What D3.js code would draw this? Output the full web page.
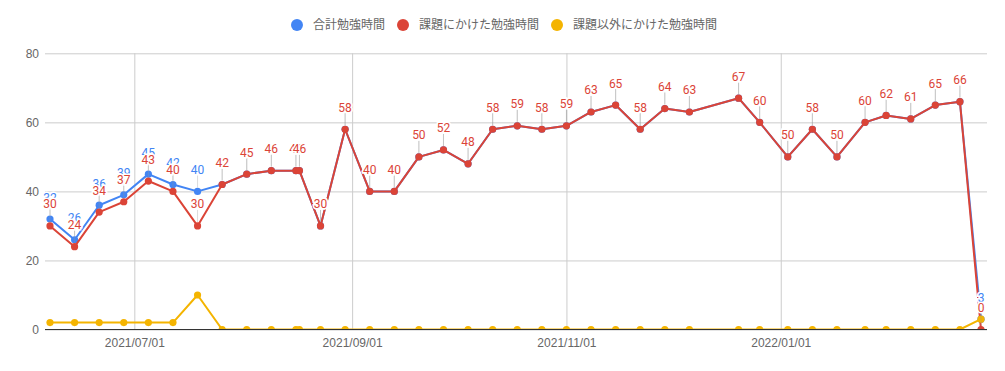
<!DOCTYPE html>
<html>
<head>
<meta charset="utf-8">
<script src="https://cdn.jsdelivr.net/npm/d3@7"></script>
<style>
	body { margin: 0; background: #fff; }
	svg { font-family: Roboto, Arial, sans-serif; }
</style>
</head>
<body>
<script>
// weekly study log (hours)
const dates = [
	"2021-06-07", "2021-06-14", "2021-06-21", "2021-06-28", "2021-07-05", "2021-07-12",
	"2021-07-19", "2021-07-26", "2021-08-02", "2021-08-09", "2021-08-16", "2021-08-17",
	"2021-08-23", "2021-08-30", "2021-09-06", "2021-09-13", "2021-09-20", "2021-09-27",
	"2021-10-04", "2021-10-11", "2021-10-18", "2021-10-25", "2021-11-01", "2021-11-08",
	"2021-11-15", "2021-11-22", "2021-11-29", "2021-12-06", "2021-12-20", "2021-12-26",
	"2022-01-03", "2022-01-10", "2022-01-17", "2022-01-25", "2022-01-31", "2022-02-07",
	"2022-02-14", "2022-02-21", "2022-02-27"
];
const totalHours = [
	32, 26, 36, 39, 45, 42, 40, 42, 45, 46, 46, 46, 30, 58, 40, 40, 50, 52, 48, 58,
	59, 58, 59, 63, 65, 58, 64, 63, 67, 60, 50, 58, 50, 60, 62, 61, 65, 66, 3
];
const taskHours = [
	30, 24, 34, 37, 43, 40, 30, 42, 45, 46, 46, 46, 30, 58, 40, 40, 50, 52, 48, 58,
	59, 58, 59, 63, 65, 58, 64, 63, 67, 60, 50, 58, 50, 60, 62, 61, 65, 66, 0
];
const otherHours = [
	2, 2, 2, 2, 2, 2, 10, 0, 0, 0, 0, 0, 0, 0, 0, 0, 0, 0, 0, 0,
	0, 0, 0, 0, 0, 0, 0, 0, 0, 0, 0, 0, 0, 0, 0, 0, 0, 0, 3
];
const seriesNames = ["合計勉強時間", "課題にかけた勉強時間", "課題以外にかけた勉強時間"];
const yTicks = [0, 20, 40, 60, 80];
const xTicks = ["2021-07-01", "2021-09-01", "2021-11-01", "2022-01-01"];

const colors = ["#4285f4", "#db4437", "#f4b400"];
const width = 1005, height = 371;
const plotLeft = 45, plotRight = 987, plotTop = 53.3, plotBottom = 329.5;

const parse = d3.utcParse("%Y-%m-%d");
const days = dates.map(parse);

const x = d3.scaleUtc()
	.domain(d3.extent(days))
	.range([50, 981]);
const y = d3.scaleLinear()
	.domain([0, 80])
	.range([plotBottom, plotTop]);

const svg = d3.select("body").append("svg")
	.attr("width", width)
	.attr("height", height);

//horizontal gridlines
svg.append("g")
	.attr("transform", `translate(${plotLeft},0)`)
	.call(d3.axisLeft(y).tickValues(yTicks).tickSize(-(plotRight - plotLeft)).tickPadding(6))
	.call(g => g.select(".domain").remove())
	.call(g => g.selectAll(".tick line").attr("stroke", "#cccccc"))
	.call(g => g.selectAll(".tick text")
		.attr("fill", "#666").attr("font-size", 12).attr("x", -6));

//vertical gridlines + date labels
svg.append("g")
	.attr("transform", `translate(0,${plotBottom})`)
	.call(d3.axisBottom(x).tickValues(xTicks.map(parse))
		.tickFormat(d3.utcFormat("%Y/%m/%d"))
		.tickSize(-(plotBottom - plotTop)).tickPadding(9))
	.call(g => g.select(".domain").remove())
	.call(g => g.selectAll(".tick line").attr("stroke", "#cccccc"))
	.call(g => g.selectAll(".tick text").attr("fill", "#666").attr("font-size", 12));

svg.append("clipPath").attr("id", "plot")
	.append("rect")
	.attr("x", plotLeft).attr("y", 0)
	.attr("width", plotRight - plotLeft).attr("height", plotBottom);

const series = [totalHours, taskHours, otherHours].map((vals, i) => ({
	name: seriesNames[i],
	color: colors[i],
	points: vals.map((v, j) => ({ date: days[j], value: v }))
}));

const line = d3.line()
	.x(d => x(d.date))
	.y(d => y(d.value));

const plot = svg.append("g").attr("clip-path", "url(#plot)");

for (let s of series) {
	let g = plot.append("g");
	g.append("path")
		.datum(s.points)
		.attr("fill", "none")
		.attr("stroke", s.color)
		.attr("stroke-width", 2)
		.attr("stroke-linejoin", "round")
		.attr("d", line);
	g.selectAll("circle")
		.data(s.points)
		.enter().append("circle")
		.attr("cx", d => x(d.date))
		.attr("cy", d => y(d.value))
		.attr("r", 3.6)
		.attr("fill", s.color);
}

//baseline
svg.append("line")
	.attr("x1", plotLeft).attr("x2", plotRight)
	.attr("y1", plotBottom).attr("y2", plotBottom)
	.attr("stroke", "#333");

//annotations for the first two series
for (let s of series.slice(0, 2)) {
	let g = svg.append("g");
	g.selectAll("line")
		.data(s.points)
		.enter().append("line")
		.attr("x1", d => x(d.date))
		.attr("x2", d => x(d.date))
		.attr("y1", d => y(d.value) - 16)
		.attr("y2", d => y(d.value) - 4)
		.attr("stroke", "#999")
		.attr("stroke-opacity", 0.35);
	g.selectAll("text")
		.data(s.points)
		.enter().append("text")
		.attr("x", d => x(d.date))
		.attr("y", d => y(d.value) - 17.5)
		.attr("text-anchor", "middle")
		.attr("font-size", 12)
		.attr("fill", s.color)
		.attr("stroke", "#fff")
		.attr("stroke-width", 3)
		.attr("paint-order", "stroke")
		.text(d => d.value);
}

//legend
const legendGap = 18;
const legend = svg.append("g")
	.attr("font-family", "'Noto Sans CJK JP', sans-serif")
	.attr("font-size", 12);
let cursor = 0;
series.forEach(s => {
	let item = legend.append("g");
	item.append("circle").attr("r", 6).attr("fill", s.color);
	let t = item.append("text").attr("x", 16)
		.attr("dy", "0.35em").attr("fill", "#666").text(s.name);
	let w = 16 + t.node().getComputedTextLength();
	item.attr("transform", `translate(${cursor},25)`);
	cursor += w + legendGap;
});
const total = cursor - legendGap + 6;
legend.attr("transform", `translate(${504 - total / 2 + 6},0)`);
</script>
</body>
</html>
